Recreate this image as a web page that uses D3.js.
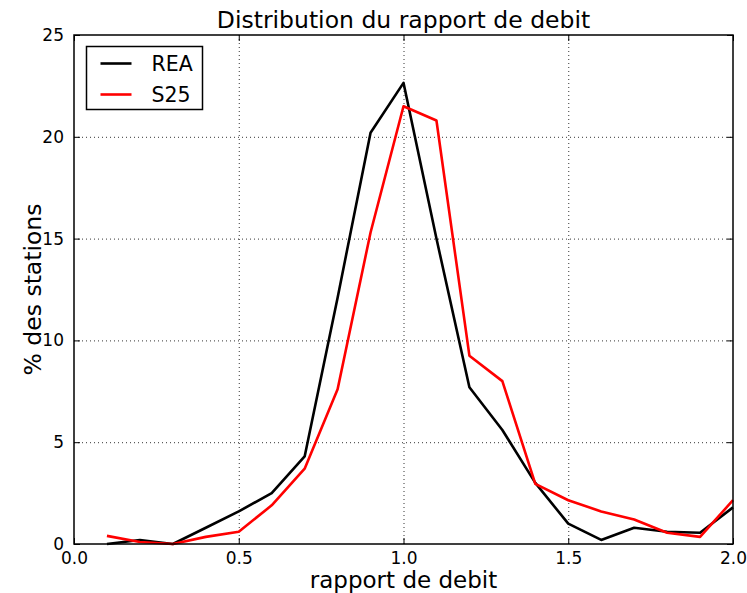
<!DOCTYPE html>
<html>
<head>
<meta charset="utf-8">
<script src="https://cdn.jsdelivr.net/npm/d3@7"></script>
<style>
  body { margin: 0; background: #fff; }
  svg { font-family: "DejaVu Sans", sans-serif; }
</style>
</head>
<body>
<svg id="chart" width="747" height="593"></svg>
<script>
// Data
const ratios = [0.1, 0.2, 0.3, 0.4, 0.5, 0.6, 0.7, 0.8, 0.9, 1.0,
                1.1, 1.2, 1.3, 1.4, 1.5, 1.6, 1.7, 1.8, 1.9, 2.0];
const rea = [0.0, 0.2, 0.0, 0.8, 1.6, 2.5, 4.3, 12.1, 20.2, 22.65,
             15.0, 7.7, 5.6, 3.0, 1.0, 0.2, 0.8, 0.6, 0.55, 1.8];
const s25 = [0.4, 0.1, 0.0, 0.35, 0.6, 1.9, 3.7, 7.6, 15.3, 21.5,
             20.8, 9.25, 8.0, 2.95, 2.15, 1.6, 1.2, 0.55, 0.35, 2.15];
const xTicks = [0.0, 0.5, 1.0, 1.5, 2.0];
const yTicks = [0, 5, 10, 15, 20, 25];
const series = [
    { name: "REA", values: rea, color: "#000000" },
    { name: "S25", values: s25, color: "#ff0000" },
];

const margin = { top: 35, right: 14, bottom: 49, left: 74 };
const width = 747, height = 593;

const $svg = d3.select("#chart");

const x = d3.scaleLinear()
    .domain([0, 2])
    .range([margin.left, width - margin.right]);
const y = d3.scaleLinear()
    .domain([0, 25])
    .range([height - margin.bottom, margin.top]);

// Grid
const $grid = $svg.append("g");
$grid.selectAll(".vgrid")
    .data(xTicks.slice(1, -1))
    .join("line")
      .attr("x1", d => x(d) + 0.5).attr("x2", d => x(d) + 0.5)
      .attr("y1", y(25)).attr("y2", y(0))
      .attr("stroke", "#000").attr("stroke-width", 0.8)
      .attr("stroke-dasharray", "1,3");
$grid.selectAll(".hgrid")
    .data(yTicks.slice(1, -1))
    .join("line")
      .attr("y1", d => y(d) + 0.5).attr("y2", d => y(d) + 0.5)
      .attr("x1", x(0)).attr("x2", x(2))
      .attr("stroke", "#000").attr("stroke-width", 0.8)
      .attr("stroke-dasharray", "1,3");

// Lines
const line = d3.line()
    .x((d, i) => x(ratios[i]))
    .y(d => y(d));

$svg.append("g")
  .selectAll("path")
  .data(series)
  .join("path")
    .attr("d", d => line(d.values))
    .attr("fill", "none")
    .attr("stroke", d => d.color)
    .attr("stroke-width", 2.6)
    .attr("stroke-linejoin", "round");

// Axes: inward ticks on all four sides
const tickLen = 6;
const fmtX = d3.format(".1f");
const xAxisB = d3.axisBottom(x).tickValues(xTicks).tickFormat(fmtX).tickSizeInner(-tickLen).tickSizeOuter(0).tickPadding(8);
const xAxisT = d3.axisTop(x).tickValues(xTicks).tickFormat("").tickSizeInner(-tickLen).tickSizeOuter(0);
const yAxisL = d3.axisLeft(y).tickValues(yTicks).tickFormat(d3.format("d")).tickSizeInner(-tickLen).tickSizeOuter(0).tickPadding(10);
const yAxisR = d3.axisRight(y).tickValues(yTicks).tickFormat("").tickSizeInner(-tickLen).tickSizeOuter(0);

const styleAxis = g => {
    g.select(".domain").remove();
    g.selectAll("text").attr("font-size", 17).attr("fill", "#000")
        .attr("font-family", "DejaVu Sans, sans-serif");
    g.selectAll("line").attr("stroke", "#000");
};

$svg.append("g").attr("transform", `translate(0,${y(0)})`).call(xAxisB).call(styleAxis);
$svg.append("g").attr("transform", `translate(0,${y(25)})`).call(xAxisT).call(styleAxis);
$svg.append("g").attr("transform", `translate(${x(0)},0)`).call(yAxisL).call(styleAxis);
$svg.append("g").attr("transform", `translate(${x(2)},0)`).call(yAxisR).call(styleAxis);

// Frame
$svg.append("rect")
    .attr("x", x(0)).attr("y", y(25))
    .attr("width", x(2) - x(0)).attr("height", y(0) - y(25))
    .attr("fill", "none").attr("stroke", "#000").attr("stroke-width", 1.5);

// Title and labels
$svg.append("text")
    .attr("x", (x(0) + x(2)) / 2).attr("y", 28)
    .attr("text-anchor", "middle").attr("font-size", 23.5)
    .text("Distribution du rapport de debit");
$svg.append("text")
    .attr("x", (x(0) + x(2)) / 2).attr("y", 588)
    .attr("text-anchor", "middle").attr("font-size", 23)
    .text("rapport de debit");
$svg.append("text")
    .attr("transform", `translate(41,${(y(0) + y(25)) / 2}) rotate(-90)`)
    .attr("text-anchor", "middle").attr("font-size", 23.5)
    .text("% des stations");

// Legend
const $legend = $svg.append("g").attr("transform", "translate(86.5,46.5)");
$legend.append("rect")
    .attr("width", 116).attr("height", 63)
    .attr("fill", "#fff").attr("stroke", "#000").attr("stroke-width", 1.5);
const $items = $legend.selectAll("g.item")
    .data(series)
    .join("g")
      .attr("transform", (d, i) => `translate(0,${17 + i * 31})`);
$items.append("line")
    .attr("x1", 14).attr("x2", 45)
    .attr("stroke", d => d.color).attr("stroke-width", 2.6);
$items.append("text")
    .attr("x", 65).attr("dy", "0.35em")
    .attr("font-size", 20.5)
    .text(d => d.name);
</script>
</body>
</html>
